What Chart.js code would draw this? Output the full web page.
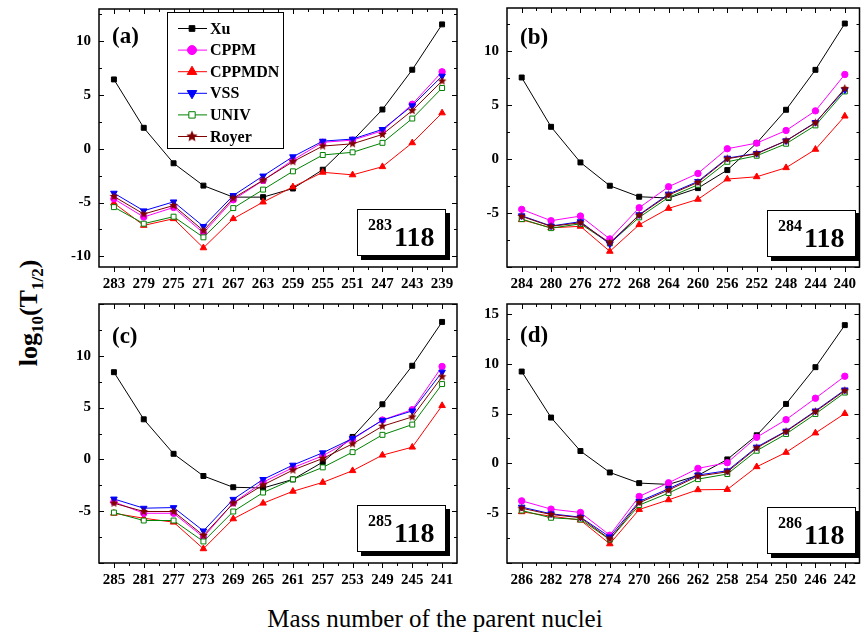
<!DOCTYPE html>
<html>
<head>
<meta charset="utf-8">
<script src="https://cdn.jsdelivr.net/npm/chart.js@4.4.1/dist/chart.umd.min.js"></script>
<style>
  html, body { margin: 0; padding: 0; background: #fff; }
  body { width: 863px; height: 637px; position: relative; overflow: hidden; font-family: "Liberation Serif", serif; }
  canvas { position: absolute; }
  .tag { position: absolute; font-weight: bold; font-size: 23px; line-height: 23px; }
  .nuc { position: absolute; width: 87px; height: 45px; border: 1px solid #000; background: #fff; box-shadow: 4px 4px 0 #000; font-weight: bold; }
  .nuc .sup { position: absolute; left: 10px; top: 7px; font-size: 16px; line-height: 16px; }
  .nuc .big { position: absolute; left: 36px; top: 13px; font-size: 28px; line-height: 28px; }
  #ylab { position: absolute; left: 31px; top: 313px; transform: translate(-50%, -50%) rotate(-90deg); font-size: 26px; font-weight: bold; white-space: nowrap; }
  #ylab sub { font-size: 17px; }
  #xlab { position: absolute; left: 435px; top: 619px; transform: translate(-50%, -50%); font-size: 25px; white-space: nowrap; }
</style>
</head>
<body>
<canvas id="cA" width="415" height="290" style="left:55px;top:0px"></canvas>
<canvas id="cB" width="402" height="290" style="left:463px;top:0px"></canvas>
<canvas id="cC" width="415" height="296" style="left:55px;top:290px"></canvas>
<canvas id="cD" width="402" height="296" style="left:463px;top:290px"></canvas>

<div class="tag" style="left:112px;top:24px">(a)</div>
<div class="tag" style="left:520px;top:25px">(b)</div>
<div class="tag" style="left:112px;top:324px">(c)</div>
<div class="tag" style="left:520px;top:323px">(d)</div>

<div class="nuc" style="left:357px;top:209px"><span class="sup">283</span><span class="big">118</span></div>
<div class="nuc" style="left:767px;top:210px"><span class="sup">284</span><span class="big">118</span></div>
<div class="nuc" style="left:357px;top:505px"><span class="sup">285</span><span class="big">118</span></div>
<div class="nuc" style="left:767px;top:507px"><span class="sup">286</span><span class="big">118</span></div>

<div id="ylab">log<sub>10</sub>(T<sub>1/2</sub>)</div>
<div id="xlab">Mass number of the parent nuclei</div>

<script>
// ---- data: (a) 283-118 chain
const catsA = ['283','279','275','271','267','263','259','255','251','247','243','239'];
const xuA     = [6.45, 1.95, -1.35, -3.43, -4.5, -4.5, -3.7, -1.95, 0.75, 3.65, 7.35, 11.57];
const cppmA   = [-4.66, -6.35, -5.46, -7.83, -4.75, -2.95, -1.05, 0.6, 0.8, 1.67, 4.14, 7.16];
const cppmdnA = [-5.06, -7.13, -6.51, -9.22, -6.51, -4.96, -3.55, -2.19, -2.43, -1.67, 0.55, 3.33];
const vssA    = [-4.13, -5.77, -4.94, -7.22, -4.35, -2.53, -0.74, 0.71, 0.9, 1.8, 4.0, 6.76];
const univA   = [-5.43, -6.97, -6.32, -8.24, -5.52, -3.8, -2.1, -0.58, -0.33, 0.55, 2.81, 5.65];
const royerA  = [-4.44, -6.07, -5.28, -7.62, -4.6, -2.93, -1.2, 0.25, 0.46, 1.33, 3.55, 6.3];
const yTicksA = [-10, -5, 0, 5, 10];

// ---- (b) 284-118
const catsB = ['284','280','276','272','268','264','260','256','252','248','244','240'];
const xuB     = [7.56, 2.99, -0.31, -2.47, -3.49, -3.61, -2.69, -1.02, 1.48, 4.57, 8.27, 12.56];
const cppmB   = [-4.66, -5.71, -5.28, -7.4, -4.51, -2.56, -1.33, 0.96, 1.48, 2.65, 4.47, 7.84];
const cppmdnB = [-5.62, -6.37, -6.23, -8.55, -6.08, -4.57, -3.73, -1.85, -1.64, -0.8, 0.9, 3.98];
const vssB    = [-5.25, -6.2, -5.8, -7.87, -5.15, -3.24, -2.07, 0.09, 0.53, 1.7, 3.4, 6.42];
const univB   = [-5.56, -6.4, -6.0, -7.8, -5.4, -3.55, -2.38, -0.25, 0.31, 1.42, 3.12, 6.27];
const royerB  = [-5.31, -6.23, -5.9, -7.75, -5.2, -3.33, -2.16, 0.03, 0.5, 1.69, 3.36, 6.54];
const yTicksB = [-5, 0, 5, 10];

// ---- (c) 285-118
const catsC = ['285','281','277','273','269','265','261','257','253','249','245','241'];
const xuC     = [8.42, 3.87, 0.54, -1.6, -2.69, -2.76, -1.93, -0.26, 2.17, 5.32, 9.04, 13.27];
const cppmC   = [-4.1, -5.2, -5.2, -7.5, -4.2, -2.2, -0.8, 0.35, 1.95, 3.8, 4.8, 8.97];
const cppmdnC = [-5.2, -5.68, -6.06, -8.63, -5.74, -4.23, -3.08, -2.22, -1.09, 0.41, 1.18, 5.19];
const vssC    = [-3.82, -4.71, -4.65, -6.9, -3.85, -1.93, -0.55, 0.64, 2.02, 3.78, 4.68, 8.43];
const univC   = [-5.13, -5.9, -5.9, -7.92, -5.03, -3.2, -1.93, -0.77, 0.7, 2.37, 3.36, 7.27];
const royerC  = [-4.23, -5.03, -5.03, -7.34, -4.23, -2.47, -1.03, 0.09, 1.5, 3.2, 4.1, 7.98];
const yTicksC = [-5, 0, 5, 10];

// ---- (d) 286-118
const catsD = ['286','282','278','274','270','266','262','258','254','250','246','242'];
const xuD     = [9.22, 4.6, 1.24, -0.91, -1.98, -2.11, -1.21, 0.4, 2.82, 5.97, 9.66, 13.88];
const cppmD   = [-3.76, -4.59, -4.93, -7.21, -3.32, -1.95, -0.5, 0.07, 2.62, 4.39, 6.54, 8.75];
const cppmdnD = [-4.86, -5.3, -5.7, -8.08, -4.63, -3.66, -2.65, -2.62, -0.34, 1.1, 3.05, 5.0];
const vssD    = [-4.39, -5.06, -5.4, -7.38, -3.82, -2.55, -1.17, -0.74, 1.64, 3.25, 5.27, 7.38];
const univD   = [-4.73, -5.46, -5.63, -7.65, -4.19, -2.98, -1.58, -1.07, 1.27, 2.95, 4.96, 7.11];
const royerD  = [-4.5, -5.13, -5.45, -7.6, -3.95, -2.68, -1.28, -0.85, 1.55, 3.2, 5.2, 7.3];
const yTicksD = [-5, 0, 5, 10, 15];

const seriesNames = ['Xu', 'CPPM', 'CPPMDN', 'VSS', 'UNIV', 'Royer'];

// ---- styling
const SERIF = '"Liberation Serif", "DejaVu Serif", serif';

function starImg(r, color) {
  const c = document.createElement('canvas');
  const s = Math.ceil(r * 2) + 2;
  c.width = c.height = s;
  const g = c.getContext('2d');
  g.fillStyle = color;
  g.beginPath();
  for (let i = 0; i < 10; i++) {
    const ang = -Math.PI / 2 + i * Math.PI / 5;
    const rr = i % 2 ? r * 0.45 : r;
    g.lineTo(s / 2 + rr * Math.cos(ang), s / 2 + rr * Math.sin(ang));
  }
  g.closePath();
  g.fill();
  return c;
}

const styles = [
  { color: '#000000', fill: '#000000', style: 'rect',     r: 3.5, rot: 0,   order: 6, lr: 4 },
  { color: '#ff00ff', fill: '#ff00ff', style: 'circle',   r: 3.2, rot: 0,   order: 4, lr: 4.5 },
  { color: '#ff0000', fill: '#ff0000', style: 'triangle', r: 3.8, rot: 0,   order: 5, lr: 5.5 },
  { color: '#0000ff', fill: '#0000ff', style: 'triangle', r: 3.8, rot: 180, order: 2, lr: 5.5 },
  { color: '#008000', fill: '#ffffff', style: 'rect',     r: 3.5, rot: 0,   order: 3, lr: 4.5 },
  { color: '#800000', fill: '#800000', style: starImg(4.5, '#800000'), r: 4.5, rot: 0, order: 1, lr: 5,
    legendStyle: starImg(6, '#800000') }
];

// frame with inward ticks on left/right/top, outward ticks at the bottom
const framePlugin = {
  id: 'frame',
  afterDatasetsDraw(chart) {
    const { ctx, chartArea: a, scales: { x, y } } = chart;
    const seg = (x1, y1, x2, y2) => { ctx.beginPath(); ctx.moveTo(x1, y1); ctx.lineTo(x2, y2); ctx.stroke(); };
    ctx.save();
    ctx.strokeStyle = '#000';
    ctx.lineWidth = 1;
    for (let v = Math.ceil(y.min / 2.5) * 2.5; v <= y.max + 1e-6; v += 2.5) {
      const py = Math.round(y.getPixelForValue(v)) + 0.5;
      const L = Math.abs(v % 5) < 1e-6 ? 5 : 3;
      seg(a.left, py, a.left + L, py);
      seg(a.right, py, a.right - L, py);
    }
    const n = chart.data.labels.length;
    for (let i = 0; i <= 2 * (n - 1); i++) {
      const px = Math.round(x.getPixelForValue(i / 2)) + 0.5;
      const L = i % 2 === 0 ? 5 : 3;
      seg(px, a.top, px, a.top + L);
      seg(px, a.bottom, px, a.bottom + L);
    }
    ctx.lineWidth = 1.5;
    ctx.strokeRect(a.left, a.top, a.right - a.left, a.bottom - a.top);
    ctx.restore();
  }
};

const legendPlugin = {
  id: 'boxLegend',
  afterDraw(chart) {
    const { ctx, chartArea: a } = chart;
    const bx = a.left + 68, by = a.top + 3, bw = 116, bh = 136;
    ctx.save();
    ctx.fillStyle = '#fff';
    ctx.fillRect(bx, by, bw, bh);
    ctx.strokeStyle = '#000';
    ctx.lineWidth = 1;
    ctx.strokeRect(bx + 0.5, by + 0.5, bw, bh);
    chart.data.datasets.forEach((ds, i) => {
      const st = styles[i];
      const yy = by + 16.5 + i * 21.6;
      ctx.strokeStyle = st.color;
      ctx.lineWidth = 1;
      ctx.beginPath(); ctx.moveTo(bx + 11, yy); ctx.lineTo(bx + 40, yy); ctx.stroke();
      ctx.fillStyle = st.fill;
      Chart.helpers.drawPoint(ctx, {
        pointStyle: st.legendStyle || st.style, rotation: st.rot, radius: st.lr, borderWidth: 1
      }, bx + 25, yy);
      ctx.fillStyle = '#000';
      ctx.font = 'bold 16px ' + SERIF;
      ctx.textBaseline = 'middle';
      ctx.fillText(ds.label, bx + 43, yy + 1);
    });
    ctx.restore();
  }
};

const panels = [
  { id: 'cA', cats: catsA, vals: [xuA, cppmA, cppmdnA, vssA, univA, royerA], yMin: -11, yMax: 13, yTicks: yTicksA, pad: { right: 13, top: 9 }, legend: true },
  { id: 'cB', cats: catsB, vals: [xuB, cppmB, cppmdnB, vssB, univB, royerB], yMin: -10, yMax: 14, yTicks: yTicksB, pad: { right: 1, top: 8 } },
  { id: 'cC', cats: catsC, vals: [xuC, cppmC, cppmdnC, vssC, univC, royerC], yMin: -10, yMax: 15, yTicks: yTicksC, pad: { right: 13, top: 14 } },
  { id: 'cD', cats: catsD, vals: [xuD, cppmD, cppmdnD, vssD, univD, royerD], yMin: -10, yMax: 16, yTicks: yTicksD, pad: { right: 1, top: 14 } }
];

const tickFont = { family: SERIF, size: 15, weight: 'bold' };

panels.forEach(p => {
  new Chart(document.getElementById(p.id), {
    type: 'line',
    data: {
      labels: p.cats,
      datasets: seriesNames.map((name, i) => ({
        label: name,
        data: p.vals[i],
        borderColor: styles[i].color,
        backgroundColor: styles[i].fill,
        pointBackgroundColor: styles[i].fill,
        pointBorderColor: styles[i].color,
        borderWidth: 1,
        pointStyle: styles[i].style,
        pointRadius: styles[i].r,
        pointHoverRadius: styles[i].r,
        pointRotation: styles[i].rot,
        pointBorderWidth: 1,
        tension: 0,
        order: styles[i].order
      }))
    },
    options: {
      responsive: false,
      devicePixelRatio: 1,
      animation: false,
      events: [],
      layout: { padding: { left: 0, right: p.pad.right, top: p.pad.top, bottom: 0 } },
      plugins: { legend: { display: false }, tooltip: { enabled: false } },
      scales: {
        x: {
          type: 'category',
          offset: true,
          grid: { display: false, drawTicks: false },
          border: { display: false },
          ticks: { color: '#000', font: tickFont, padding: 8, autoSkip: false, maxRotation: 0 },
          afterFit: s => { s.height = 23; s.paddingLeft = 0; s.paddingRight = 0; }
        },
        y: {
          min: p.yMin,
          max: p.yMax,
          grid: { display: false, drawTicks: false },
          border: { display: false },
          ticks: { color: '#000', font: tickFont, padding: 8 },
          afterBuildTicks: s => { s.ticks = p.yTicks.map(v => ({ value: v })); },
          afterFit: s => { s.width = 44; s.paddingTop = 0; s.paddingBottom = 0; }
        }
      }
    },
    plugins: p.legend ? [framePlugin, legendPlugin] : [framePlugin]
  });
});
</script>
</body>
</html>
